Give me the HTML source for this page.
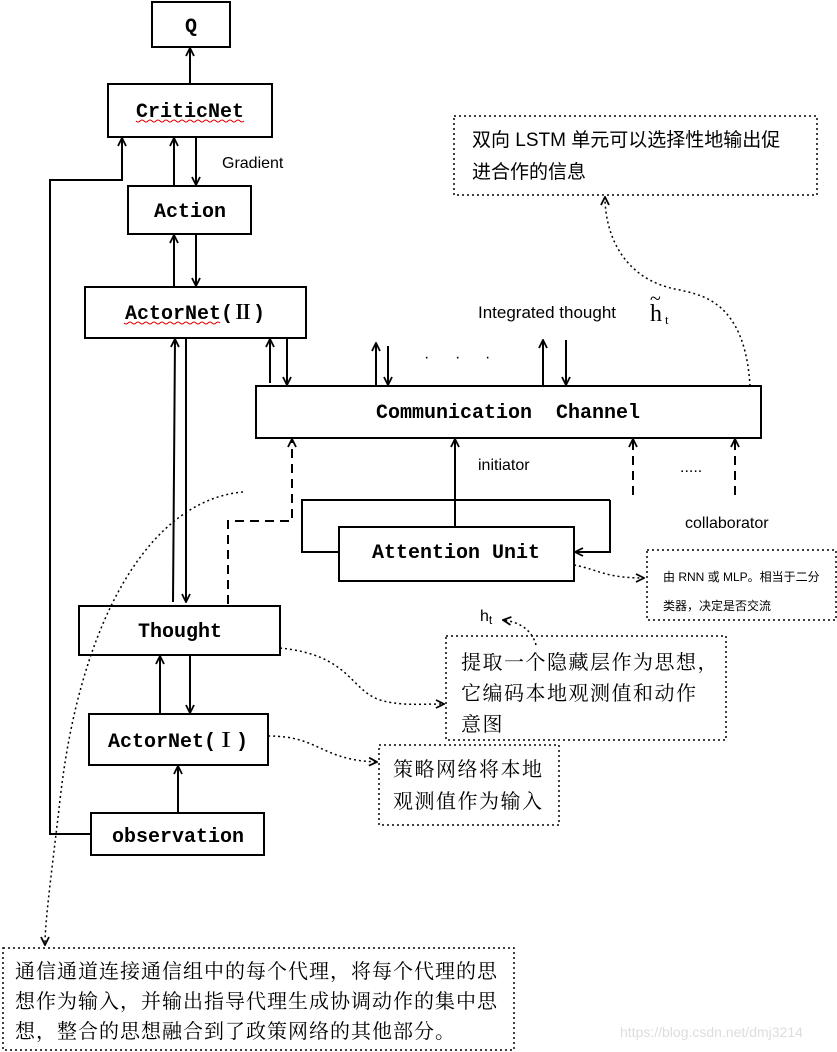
<!DOCTYPE html>
<html><head><meta charset="utf-8"><style>
html,body{margin:0;padding:0;background:#fff;}
svg{display:block;}
.bx{font-family:"Liberation Mono","Noto Serif CJK SC",monospace;font-weight:bold;font-size:20px;fill:#000;}
.cn{font-family:"Liberation Serif","Noto Serif CJK SC",serif;font-size:20px;fill:#000;}
.sn{font-family:"Liberation Sans","Noto Sans CJK SC",sans-serif;fill:#000;}
</style></head><body>
<svg width="837" height="1052" viewBox="0 0 837 1052" xmlns="http://www.w3.org/2000/svg">
<defs>
<marker id="a" viewBox="0 0 10 10" refX="9" refY="5" markerWidth="10" markerHeight="10" orient="auto-start-reverse" markerUnits="userSpaceOnUse"><path d="M1,1 L9,5 L1,9" fill="none" stroke="#000" stroke-width="1.8"/></marker>
</defs>
<g fill="none" stroke="#000" stroke-width="2">
<rect x="152" y="2" width="78" height="45"/>
<rect x="108" y="84" width="164" height="53"/>
<rect x="128" y="186" width="123" height="48"/>
<rect x="85" y="287" width="221" height="51"/>
<rect x="256" y="386" width="505" height="52"/>
<rect x="339" y="527" width="235" height="54"/>
<rect x="79" y="606" width="201" height="49"/>
<rect x="89" y="714" width="179" height="51"/>
<rect x="91" y="813" width="173" height="42"/>
</g>
<g fill="none" stroke="#000" stroke-width="2" marker-end="url(#a)">
<line x1="190" y1="84" x2="190" y2="48"/>
<line x1="174" y1="186" x2="174" y2="138"/>
<line x1="196" y1="137" x2="196" y2="185"/>
<line x1="174" y1="287" x2="174" y2="235"/>
<line x1="196" y1="234" x2="196" y2="286"/>
<line x1="173" y1="602" x2="175" y2="339"/>
<line x1="186" y1="338" x2="186" y2="602"/>
<polyline points="91,834 50,834 50,180 122,180 122,138"/>
<line x1="270" y1="383" x2="270" y2="339"/>
<line x1="287" y1="338" x2="287" y2="385"/>
<line x1="376" y1="385" x2="376" y2="343"/>
<line x1="388" y1="346" x2="388" y2="385"/>
<line x1="543" y1="385" x2="543" y2="340"/>
<line x1="566" y1="340" x2="566" y2="385"/>
<line x1="455" y1="527" x2="455" y2="439"/>
<polyline points="610,500 610,552 575,552"/>
<line x1="160" y1="714" x2="160" y2="656"/>
<line x1="190" y1="655" x2="190" y2="713"/>
<line x1="178" y1="813" x2="178" y2="766"/>
</g>
<polyline points="339,552 302,552 302,500 610,500" fill="none" stroke="#000" stroke-width="2"/>
<g fill="none" stroke="#000" stroke-width="2" stroke-dasharray="9,6" marker-end="url(#a)">
<polyline points="228,604 228,521 292,521 292,439"/>
<line x1="633" y1="495" x2="633" y2="439"/>
<line x1="735" y1="495" x2="735" y2="439"/>
</g>
<g fill="none" stroke="#000" stroke-width="1.5" stroke-dasharray="2,3">
<rect x="454" y="116" width="363" height="79"/>
<rect x="647" y="550" width="189" height="70"/>
<rect x="446" y="636" width="280" height="104"/>
<rect x="379" y="745" width="180" height="80"/>
<rect x="3" y="948" width="511" height="102"/>
</g>
<g fill="none" stroke="#000" stroke-width="1.5" stroke-dasharray="2,3" marker-end="url(#a)">
<path d="M750,386 C745,300 700,295 680,290 C620,280 605,230 605,197"/>
<path d="M243,492 C150,500 80,620 60,800 C52,870 45,920 45,945"/>
<path d="M574,565 C600,570 605,578 644,578"/>
<path d="M280,648 C350,655 350,690 380,700 C400,706 420,704 444,704"/>
<path d="M268,736 C320,736 320,760 377,762"/>
<path d="M536,645 C532,630 520,622 503,620"/>
</g>
<g class="bx">
<text x="191" y="32" text-anchor="middle">Q</text>
<text x="190" y="117" text-anchor="middle">CriticNet</text>
<text x="190" y="217" text-anchor="middle">Action</text>
<text x="195" y="319" text-anchor="middle">ActorNet(Ⅱ)</text>
<text x="376" y="418" xml:space="preserve">Communication  Channel</text>
<text x="456" y="558" text-anchor="middle">Attention Unit</text>
<text x="180" y="637" text-anchor="middle">Thought</text>
<text x="178" y="747" text-anchor="middle">ActorNet(Ⅰ)</text>
<text x="178" y="842" text-anchor="middle">observation</text>
</g>
<g stroke="#d00" stroke-width="1" fill="none">
<path d="M136,121 q2,2 4,0 t4,0 t4,0 t4,0 t4,0 t4,0 t4,0 t4,0 t4,0 t4,0 t4,0 t4,0 t4,0 t4,0 t4,0 t4,0 t4,0 t4,0 t4,0 t4,0 t4,0 t4,0 t4,0 t4,0 t4,0 t4,0 t4,0"/>
<path d="M124,323 q2,2 4,0 t4,0 t4,0 t4,0 t4,0 t4,0 t4,0 t4,0 t4,0 t4,0 t4,0 t4,0 t4,0 t4,0 t4,0 t4,0 t4,0 t4,0 t4,0 t4,0 t4,0 t4,0 t4,0 t4,0"/>
</g>
<g class="sn" font-size="16">
<text x="222" y="168">Gradient</text>
<text x="478" y="318" font-size="17">Integrated thought</text>
<text x="478" y="470">initiator</text>
<text x="680" y="472">.....</text>
<text x="685" y="528">collaborator</text>
<text x="424" y="362">·</text><text x="455" y="362">·</text><text x="485" y="362">·</text>
</g>
<text x="650" y="321" font-family="Liberation Serif,serif" font-size="24">h</text>
<text x="650" y="305" font-family="Liberation Serif,serif" font-size="20">~</text>
<text x="665" y="324" font-family="Liberation Serif,serif" font-size="13">t</text>
<text x="480" y="621" class="sn" font-size="16">h<tspan font-size="12" dy="3">t</tspan></text>
<g class="sn" font-size="19">
<text x="472" y="146">双向 LSTM 单元可以选择性地输出促</text>
<text x="472" y="178">进合作的信息</text>
<text x="663" y="581" font-size="12">由 RNN 或 MLP。相当于二分</text>
<text x="663" y="610" font-size="12">类器，决定是否交流</text>
</g>
<g class="cn">
<text x="461" y="669" letter-spacing="1.5">提取一个隐藏层作为思想，</text>
<text x="461" y="700" letter-spacing="1.5">它编码本地观测值和动作</text>
<text x="461" y="731" letter-spacing="1.5">意图</text>
<text x="393" y="776" letter-spacing="1.5">策略网络将本地</text>
<text x="393" y="808" letter-spacing="1.5">观测值作为输入</text>
<text x="15" y="978" letter-spacing="1">通信通道连接通信组中的每个代理，将每个代理的思</text>
<text x="15" y="1008" letter-spacing="1">想作为输入，并输出指导代理生成协调动作的集中思</text>
<text x="15" y="1038" letter-spacing="1">想，整合的思想融合到了政策网络的其他部分。</text>
</g>
<text x="620" y="1037" class="sn" font-size="14" style="fill:#ddd">https://blog.csdn.net/dmj3214</text>
</svg>
</body></html>
